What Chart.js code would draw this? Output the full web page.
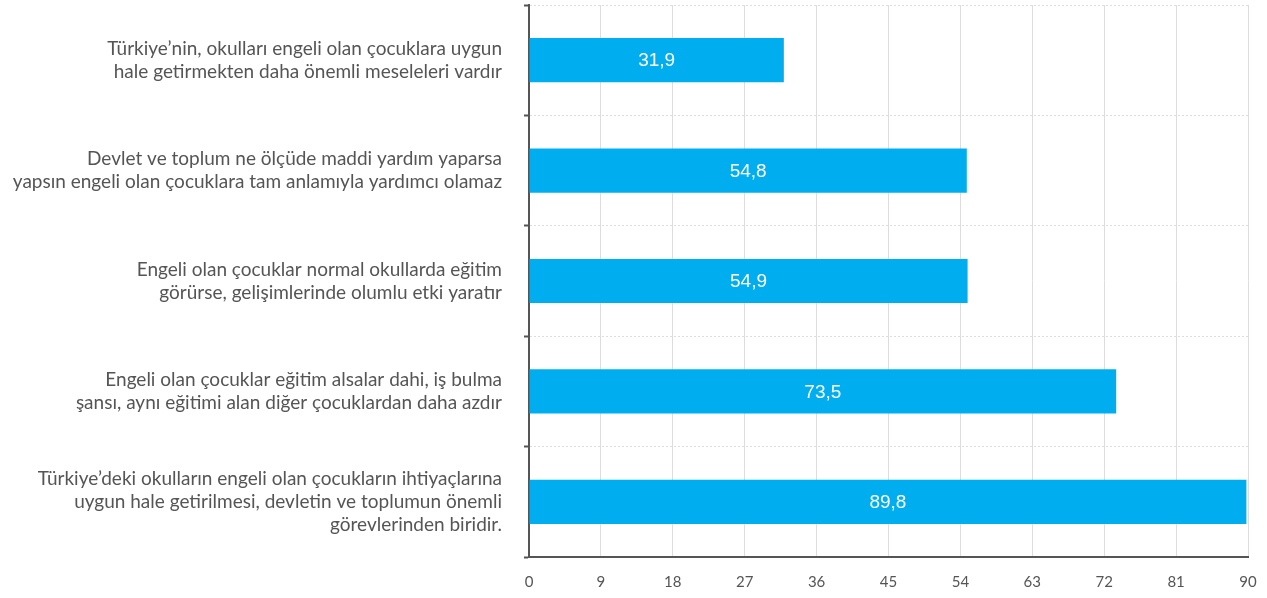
<!DOCTYPE html>
<html>
<head>
<meta charset="utf-8">
<script src="https://cdn.jsdelivr.net/npm/chart.js@4"></script>
<style>
  html, body { margin: 0; padding: 0; background: #fff; }
  #wrap { width: 1267px; height: 598px; }
</style>
</head>
<body>
<div id="wrap"><canvas id="myChart"></canvas></div>
<script>
var categories = [
  ["Türkiye’nin, okulları engeli olan çocuklara uygun", "hale getirmekten daha önemli meseleleri vardır"],
  ["Devlet ve toplum ne ölçüde maddi yardım yaparsa", "yapsın engeli olan çocuklara tam anlamıyla yardımcı olamaz"],
  ["Engeli olan çocuklar normal okullarda eğitim", "görürse, gelişimlerinde olumlu etki yaratır"],
  ["Engeli olan çocuklar eğitim alsalar dahi, iş bulma", "şansı, aynı eğitimi alan diğer çocuklardan daha azdır"],
  ["Türkiye’deki okulların engeli olan çocukların ihtiyaçlarına", "uygun hale getirilmesi, devletin ve toplumun önemli", "görevlerinden biridir."]
];
var values = [31.9, 54.8, 54.9, 73.5, 89.8];
var xTicks = [0, 9, 18, 27, 36, 45, 54, 63, 72, 81, 90];

// writes the value inside each bar, with a decimal comma
var barLabels = {
  id: 'barLabels',
  afterDatasetsDraw: function(chart) {
    var ctx = chart.ctx;
    var meta = chart.getDatasetMeta(0);
    ctx.save();
    ctx.fillStyle = '#ffffff';
    ctx.font = '19px "Liberation Sans", Arial, sans-serif';
    ctx.textAlign = 'center';
    ctx.textBaseline = 'middle';
    meta.data.forEach(function(bar, i) {
      var mid = (bar.x + bar.base) / 2;
      ctx.fillText(values[i].toFixed(1).replace('.', ','), mid, bar.y + 1);
    });
    ctx.restore();
  }
};

var ctx = document.getElementById("myChart");

var myChart = new Chart(ctx, {
  type: 'bar',
  data: {
    labels: categories,
    datasets: [{
      data: values,
      backgroundColor: '#00aeef',
      borderWidth: 0,
      barPercentage: 0.4,
      categoryPercentage: 1
    }]
  },
  options: {
    indexAxis: 'y',
    responsive: true,
    maintainAspectRatio: false,
    animation: false,
    layout: { padding: { top: 5, right: 19, left: 8, bottom: 0 } },
    plugins: {
      legend: { display: false },
      tooltip: { enabled: false }
    },
    scales: {
      x: {
        min: 0,
        max: 90,
        afterBuildTicks: function(scale) {
          scale.ticks = xTicks.map(function(v) { return { value: v }; });
        },
        afterFit: function(scale) {
          scale.height = 41;
          scale.paddingLeft = 0;
          scale.paddingRight = 0;
        },
        grid: { color: '#dddddd', lineWidth: 1, drawTicks: false },
        border: { color: '#555555', width: 2 },
        ticks: {
          color: '#555555',
          padding: 16,
          font: { family: 'Lato, "Open Sans", sans-serif', size: 15 }
        }
      },
      y: {
        afterFit: function(scale) {
          // fixed label column, no extra room above/below the bands
          scale.width = 521;
          scale.paddingTop = 0;
          scale.paddingBottom = 0;
        },
        grid: {
          offset: true,
          color: '#dddddd',
          tickColor: '#555555',
          tickLength: 5,
          tickWidth: 2,
          tickBorderDash: [0, 0]
        },
        border: { color: '#555555', width: 2, dash: [2, 2] },
        ticks: {
          color: '#555555',
          padding: 22,
          font: { family: 'Lato, "Open Sans", sans-serif', size: 19, lineHeight: 1.21 }
        }
      }
    }
  },
  plugins: [barLabels]
});
</script>
</body>
</html>
